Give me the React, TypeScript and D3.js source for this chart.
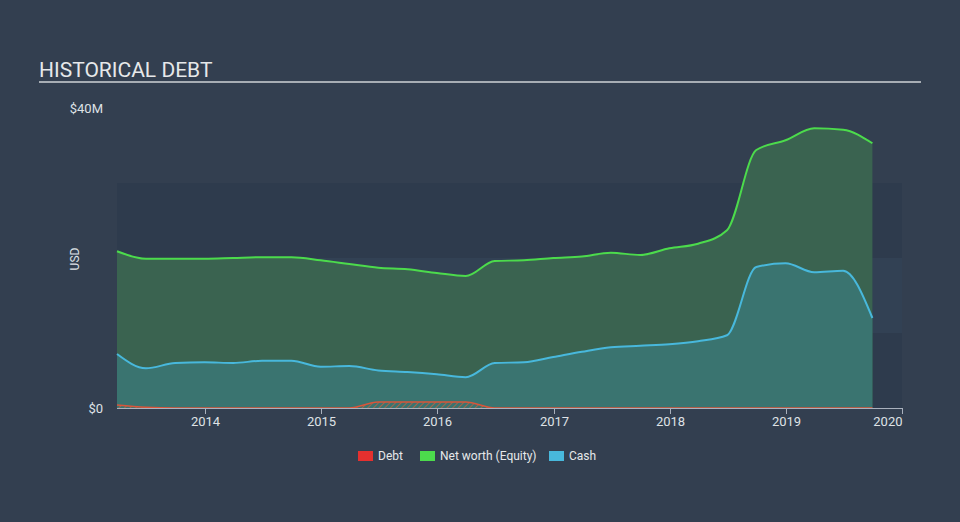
import React from "react";
import * as d3 from "d3";

const dates = [
  "2013-03-31","2013-06-30","2013-09-30","2013-12-31",
  "2014-03-31","2014-06-30","2014-09-30","2014-12-31",
  "2015-03-31","2015-06-30","2015-09-30","2015-12-31",
  "2016-03-31","2016-06-30","2016-09-30","2016-12-31",
  "2017-03-31","2017-06-30","2017-09-30","2017-12-31",
  "2018-03-31","2018-06-30","2018-09-30","2018-12-31",
  "2019-03-31","2019-06-30","2019-09-30",
];
const netWorth = [
  20.9, 19.9, 19.9, 19.9,
  20.0, 20.1, 20.1, 19.7,
  19.2, 18.7, 18.5, 18.0,
  17.6, 19.6, 19.7, 20.0,
  20.2, 20.7, 20.4, 21.3,
  21.9, 23.7, 34.4, 35.7,
  37.3, 37.1, 35.3,
];
const cash = [
  7.2, 5.3, 6.0, 6.1,
  6.0, 6.3, 6.3, 5.5,
  5.6, 5.0, 4.8, 4.5,
  4.1, 6.0, 6.1, 6.8,
  7.5, 8.1, 8.3, 8.5,
  8.9, 9.7, 18.8, 19.3,
  18.1, 18.3, 12.0,
];
const debt = [
  0.4, 0.1, 0, 0,
  0, 0, 0, 0,
  0, 0.8, 0.8, 0.8,
  0.8, 0, 0, 0,
  0, 0, 0, 0,
  0, 0, 0, 0,
  0, 0, 0,
];
const xTicks = ["2014", "2015", "2016", "2017", "2018", "2019", "2020"];
const yTickLabels = ["$0", "$40M"];
const yTickValues = [0, 40];
const bandEdges = [0, 10, 20, 30];
const legendItems = ["Debt", "Net worth (Equity)", "Cash"];

const W = 960, H = 522;
const BG = "#333f50";
const FONT = "Roboto, 'Open Sans', sans-serif";

export default function App() {
  const parse = d3.timeParse("%Y-%m-%d");
  const ds = dates.map((d) => parse(d) as Date);
  const x = d3.scaleTime()
    .domain([parse("2013-03-31") as Date, parse("2020-01-01") as Date])
    .range([117, 902]);
  const y = d3.scaleLinear().domain([0, 40]).range([408, 108]);
  const curve = d3.curveMonotoneX;

  const mk = (vals: number[]) => vals.map((v, i) => ({ d: ds[i], v }));
  const nw = mk(netWorth), ca = mk(cash), de = mk(debt);

  const area = d3.area<{ d: Date; v: number }>()
    .x((p) => x(p.d)).y0(y(0)).y1((p) => y(p.v)).curve(curve);
  const line = d3.line<{ d: Date; v: number }>()
    .x((p) => x(p.d)).y((p) => y(p.v)).curve(curve);

  const colors = { debt: "#e5302f", nw: "#4cdb4c", cash: "#48b8dc" };
  const legendColors = [colors.debt, colors.nw, colors.cash];
  const legendX = [358, 420, 549];

  return (
    <svg width={W} height={H} style={{ position: "absolute", left: 0, top: 0, display: "block" }}>
      <defs>
        <pattern id="hatch" width="4" height="4" patternUnits="userSpaceOnUse" patternTransform="rotate(45)">
          <rect width="4" height="4" fill="#3a7470" />
          <line x1="0" y1="0" x2="0" y2="4" stroke="#c8603e" strokeWidth="1.5" />
        </pattern>
      </defs>
      <rect x={0} y={0} width={W} height={H} fill={BG} />
      {/* title */}
      <text x={39} y={77} fill="#e6e8ea" fontFamily={FONT} fontSize={21}>HISTORICAL DEBT</text>
      <rect x={39} y={81} width={882} height={2} fill="#a7adb4" />

      {/* background bands */}
      {bandEdges.slice(0, 3).map((b, i) => (
        <rect key={i} x={117} width={785} y={y(bandEdges[i + 1])} height={y(b) - y(bandEdges[i + 1])}
          fill={i % 2 === 0 ? "#2e3b4d" : "#324154"} />
      ))}

      {/* areas */}
      <path d={area(nw) || ""} fill="#3a6350" />
      <path d={area(ca) || ""} fill="#3a7470" />
      <path d={area(de) || ""} fill="url(#hatch)" />
      <path d={line(nw) || ""} fill="none" stroke={colors.nw} strokeWidth={2} />
      <path d={line(ca) || ""} fill="none" stroke={colors.cash} strokeWidth={2} />
      <path d={line(de) || ""} fill="none" stroke="#d9553a" strokeWidth={1.5} />

      {/* x axis */}
      <line x1={117} x2={902} y1={408.5} y2={408.5} stroke="#a9b1bd" strokeWidth={1} />
      {xTicks.map((t) => {
        const xx = Math.round(x(parse(`${t}-01-01`) as Date)) + 0.5;
        return (
          <g key={t}>
            <line x1={xx} x2={xx} y1={408} y2={414} stroke="#a9b1bd" strokeWidth={1} />
            <text x={xx} y={426} textAnchor={t === "2020" ? "end" : "middle"}
              fill="#dfe2e6" fontFamily={FONT} fontSize={13}>{t}</text>
          </g>
        );
      })}

      {/* y labels */}
      {yTickValues.map((v, i) => (
        <text key={v} x={103} y={y(v) + 4.5} textAnchor="end" fill="#dfe2e6" fontFamily={FONT} fontSize={13}>
          {yTickLabels[i]}
        </text>
      ))}
      <text transform="translate(79,259) rotate(-90)" textAnchor="middle" fill="#dfe2e6" fontFamily={FONT} fontSize={12}>USD</text>

      {/* legend */}
      {legendItems.map((l, i) => (
        <g key={l}>
          <rect x={legendX[i]} y={451} width={15} height={10} fill={legendColors[i]} />
          <text x={legendX[i] + 20} y={460} fill="#e6e8ea" fontFamily={FONT} fontSize={12}>{l}</text>
        </g>
      ))}
    </svg>
  );
}
